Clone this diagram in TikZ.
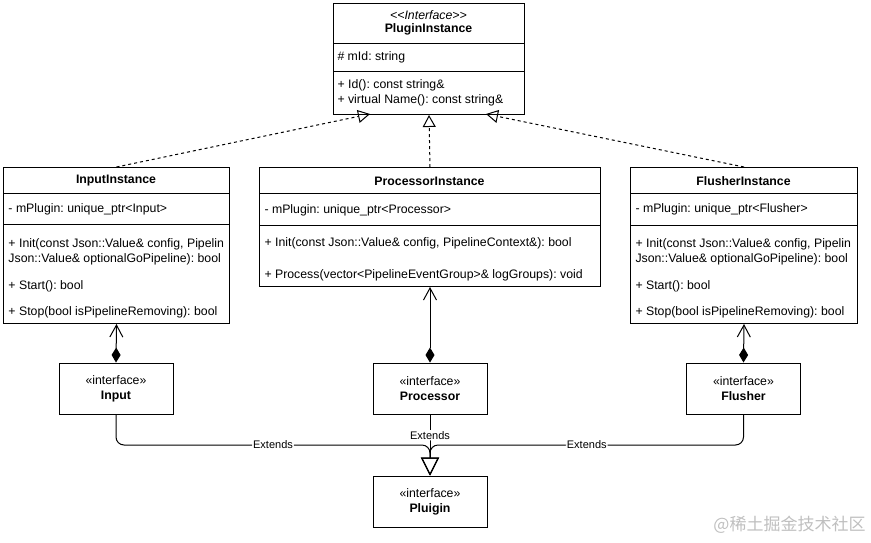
\documentclass[tikz,border=0pt]{standalone}
\usepackage{fontspec}
\setmainfont{Liberation Sans}
\newfontfamily\cjk{Noto Sans CJK SC}
\usetikzlibrary{arrows.meta}
\frenchspacing

\begin{document}
\begin{tikzpicture}
    [x=1pt, y=-1pt, line width=1pt,
      every node/.style={font=\fontsize{12.3}{15}\selectfont, inner sep=0pt},
      classbox/.style={draw, anchor=north west, minimum width=#1},
      member/.style={anchor=west},
      ifacebox/.style={draw, minimum width=114, minimum height=51, align=center},
      edgelabel/.style={fill=white, inner sep=1pt, font=\fontsize{11}{13}\selectfont},
      realize/.style={dash pattern=on 3pt off 3pt, -{Triangle[open, length=12pt, width=13pt]}},
      compose/.style={{Straight Barb[length=12pt, width=13pt]}-{Diamond[length=15pt, width=9pt]}},
      extend/.style={rounded corners=8pt, -{Triangle[open, length=18pt, width=18pt]}},
     ]
    \useasboundingbox (0,0) rectangle (871,542);

    % top interface
    \node[classbox=191, minimum height=111] (pi) at (333,3) {};
    \draw (333,43) -- (524,43) (333,71) -- (524,71);
    \node (piStereo) at (428.5,15) {\itshape <{}<Interface>{}>};
    \node (piName) at (428.5,29) {\bfseries PluginInstance};
    \node[member] (piId) at (337,57) {\# mId: string};
    \node[member] (piOpA) at (337,85) {+ Id(): const string\&};
    \node[member] (piOpB) at (337,100) {+ virtual Name(): const string\&};
    \coordinate (piL) at (370,114);
    \coordinate (piR) at (486,114);

    % instances
    \node[classbox=226, minimum height=156] (ii) at (3,167) {};
    \draw (3,193) -- (229,193) (3,224) -- (229,224);
    \node (iiName) at (116,181) {\bfseries InputInstance};
    \node[member] (iiAttr) at (8,209) {- mPlugin: unique\_ptr<Input>};
    \begin{scope}
      \clip (3,230) rectangle (228,270);
      \node[member] (iiInitA) at (8,244) {+ Init(const Json::Value\& config, Pipelin};
      \node[member] (iiInitB) at (8,259) {Json::Value\& optionalGoPipeline): bool};
    \end{scope}
    \node[member] (iiStart) at (8,286) {+ Start(): bool};
    \node[member] (iiStop) at (8,312) {+ Stop(bool isPipelineRemoving): bool};

    \node[classbox=341, minimum height=119] (ri) at (259,167) {};
    \draw (259,193) -- (600,193) (259,225) -- (600,225);
    \node (riName) at (429.5,181) {\bfseries ProcessorInstance};
    \node[member] (riAttr) at (264,210) {- mPlugin: unique\_ptr<Processor>};
    \node[member] (riInit) at (264,243) {+ Init(const Json::Value\& config, PipelineContext\&): bool};
    \node[member] (riProc) at (264,275) {+ Process(vector<PipelineEventGroup>\& logGroups): void};

    \node[classbox=227, minimum height=156] (fi) at (630,167) {};
    \draw (630,193) -- (857,193) (630,225) -- (857,225);
    \node (fiName) at (743.5,181) {\bfseries FlusherInstance};
    \node[member] (fiAttr) at (635,209) {- mPlugin: unique\_ptr<Flusher>};
    \begin{scope}
      \clip (630,230) rectangle (856,270);
      \node[member] (fiInitA) at (635,244) {+ Init(const Json::Value\& config, Pipelin};
      \node[member] (fiInitB) at (635,259) {Json::Value\& optionalGoPipeline): bool};
    \end{scope}
    \node[member] (fiStart) at (635,286) {+ Start(): bool};
    \node[member] (fiStop) at (635,312) {+ Stop(bool isPipelineRemoving): bool};

    % plugin interfaces
    \node[ifacebox] (inp) at (116,388.5) {«interface»\\\textbf{Input}};
    \node[ifacebox] (prc) at (430,388.5) {«interface»\\\textbf{Processor}};
    \node[ifacebox] (fls) at (743.5,388.5) {«interface»\\\textbf{Flusher}};
    \node[ifacebox] (plg) at (430,501.5) {«interface»\\\textbf{Pluigin}};
    \coordinate (jn) at (430,445);

    \draw[realize] (ii.north) -- (piL);
    \draw[realize] (ri.north) -- (pi.south);
    \draw[realize] (fi.north) -- (piR);

    \draw[compose] (ii.south) -- (inp.north);
    \draw[compose] (ri.south -| prc.north) -- (prc.north);
    \draw[compose] (fi.south) -- (fls.north);

    \draw[extend] (inp.south) |- (jn) node[pos=0.75, edgelabel] {Extends} -- (plg.north);
    \draw[extend] (fls.south) |- (jn) node[pos=0.75, edgelabel] {Extends} -- (plg.north);
    \draw[extend] (prc.south) -- (plg.north) node[pos=0.34, edgelabel] {Extends};

    \node[anchor=east, text=black!25, font=\cjk\fontsize{17}{17}\selectfont] (mark) at (866,525) {@稀土掘金技术社区};
\end{tikzpicture}
\end{document}
